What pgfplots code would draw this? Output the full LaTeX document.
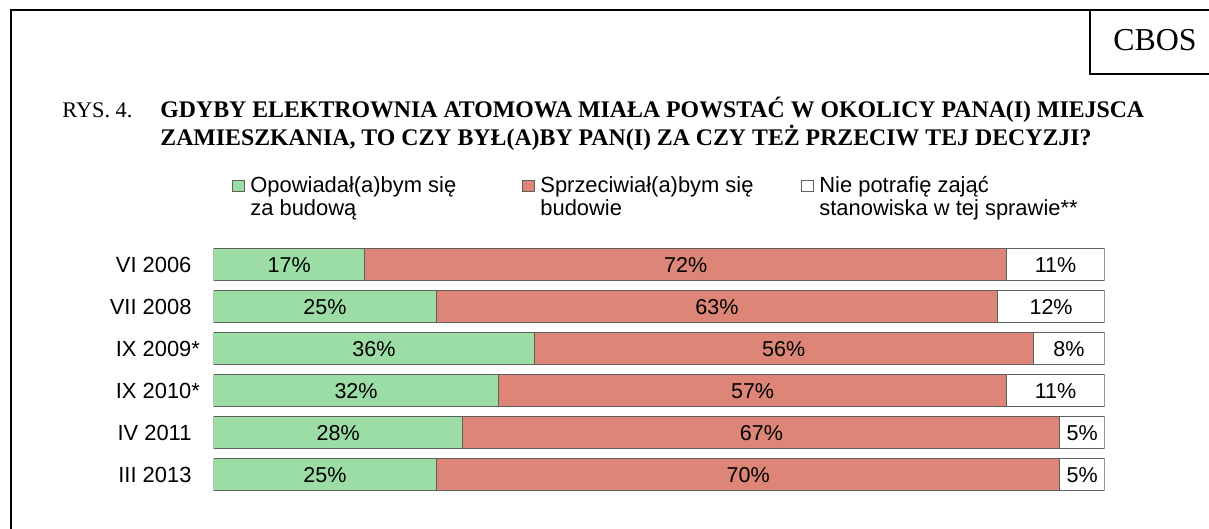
\documentclass[border=0pt]{standalone}
\usepackage{fontspec}
\setmainfont{Liberation Sans}
\newfontfamily\timesfont{Liberation Serif}
\usepackage{pgfplots}
\pgfplotsset{compat=1.18}
\usepackage{pgfplotstable}

\definecolor{zaGreen}{RGB}{155,221,165}
\definecolor{przRed}{RGB}{221,133,119}
\definecolor{barEdge}{RGB}{95,95,95}

% CBOS, RYS. 4 -- shares in percent
\pgfplotstableread{
row za przeciw nie
0 17 72 11
1 25 63 12
2 36 56 8
3 32 57 11
4 28 67 5
5 25 70 5
}\atomdata

\begin{document}
\begin{tikzpicture}[x=0.5bp,y=-0.5bp]
\useasboundingbox (0,0) rectangle (1209,529);

% frame and CBOS box
\draw[line width=1bp] (11,540) -- (11,10) -- (1220,10);
\draw[line width=1bp] (1090,10) -- (1090,74) -- (1220,74);
\node[font=\timesfont\fontsize{16}{18}\selectfont, inner sep=0] at (1155,40) {CBOS};

% title
\begin{scope}[every node/.style={anchor=base west, inner sep=0}]
\node[font=\timesfont\fontsize{11.2}{13}\selectfont] at (62,118) {RYS. 4.};
\node[font=\timesfont\bfseries\fontsize{11.95}{14}\selectfont] at (160,118)
  {GDYBY ELEKTROWNIA ATOMOWA MIAŁA POWSTAĆ W OKOLICY PANA(I) MIEJSCA};
\node[font=\timesfont\bfseries\fontsize{11.95}{14}\selectfont] at (160,146)
  {ZAMIESZKANIA, TO CZY BYŁ(A)BY PAN(I) ZA CZY TEŻ PRZECIW TEJ DECYZJI?};
\end{scope}

% legend
\begin{scope}[every node/.style={anchor=base west, inner sep=0, font=\fontsize{11}{13}\selectfont}]
\filldraw[fill=zaGreen, draw=barEdge, line width=0.5bp] (232,181) rectangle (244,192);
\node at (250,193) {Opowiadał(a)bym się};
\node at (250,216) {za budową};
\filldraw[fill=przRed, draw=barEdge, line width=0.5bp] (522,181) rectangle (534,192);
\node at (540,193) {Sprzeciwiał(a)bym się};
\node at (540,216) {budowie};
\filldraw[fill=white, draw=barEdge, line width=0.5bp] (801,181) rectangle (813,192);
\node at (819,193) {Nie potrafię zająć};
\node at (819,216) {stanowiska w tej sprawie**};
\end{scope}

\coordinate (plotNW) at (213.5,243.8);
\begin{axis}[
    at={(plotNW)}, anchor=north west,
    scale only axis,
    width=445.5bp, height=126bp,
    xbar stacked,
    bar width=15.85bp,
    xmin=0, xmax=100,
    ymin=-0.5, ymax=5.5,
    y dir=reverse,
    axis line style={draw=none},
    xtick=\empty,
    ytick={0,...,5},
    yticklabels={VI 2006, VII 2008, IX 2009\rlap{*}, IX 2010\rlap{*}, IV 2011, III 2013},
    major tick length=0pt,
    tick style={draw=none},
    yticklabel style={font=\fontsize{11}{13}\selectfont, anchor=east, xshift=-7.5bp},
    every axis plot/.append style={draw=barEdge, line width=0.5bp},
    point meta=explicit,
    nodes near coords={\pgfmathprintnumber[assume math mode=true]{\pgfplotspointmeta}\%},
    every node near coord/.append style={font=\fontsize{10.8}{12}\selectfont,
        anchor=center},
]
\addplot[fill=zaGreen] table[x=za, y=row, meta=za] {\atomdata};
\addplot[fill=przRed] table[x=przeciw, y=row, meta=przeciw] {\atomdata};
\addplot[fill=white] table[x=nie, y=row, meta=nie] {\atomdata};
\end{axis}
\end{tikzpicture}
\end{document}
